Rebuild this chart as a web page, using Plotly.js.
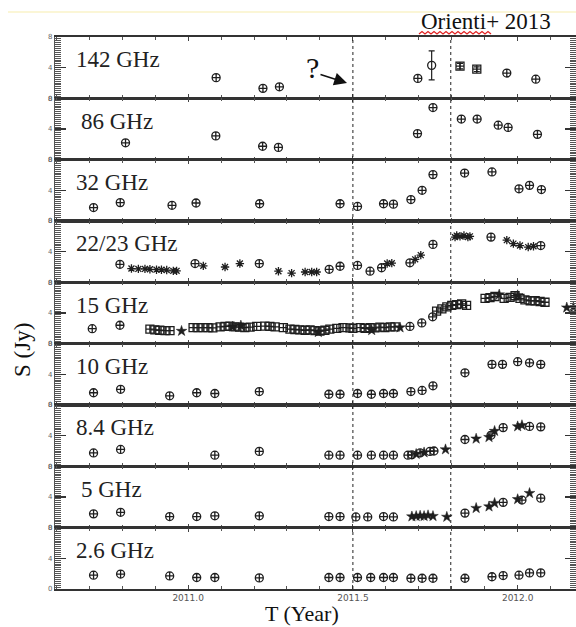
<!DOCTYPE html>
<html><head><meta charset="utf-8">
<script src="https://cdn.plot.ly/plotly-3.0.1.min.js"></script>
<style>html,body{margin:0;padding:0;background:#fff}#chart{width:576px;height:627px}</style>
</head><body><div id="chart"></div>
<script>
// ---- data (year, flux density in Jy) ----
const panelLabels = ["142 GHz", "86 GHz", "32 GHz", "22/23 GHz", "15 GHz", "10 GHz", "8.4 GHz", "5 GHz", "2.6 GHz"];
const xTickVals = [2011.0, 2011.5, 2012.0];
const xTickText = ["2011.0", "2011.5", "2012.0"];
const yTickVals = [0, 4, 8];
const yTickText = ["0", "4", "8"];
const flareLines = [2011.5, 2011.797];

const f142_t = [2011.085, 2011.227, 2011.277, 2011.697, 2011.967, 2012.055];
const f142_s = [2.7, 1.3, 1.5, 2.6, 3.3, 2.5];
const f142o_t = [2011.739];
const f142o_s = [4.3];
const f142o_e = [1.9];
const f142q_t = [2011.825, 2011.876];
const f142q_s = [4.2, 3.8];
const f142q_e = [0.35, 0.3];

const f86_t = [2010.810, 2011.084, 2011.226, 2011.274, 2011.696, 2011.743, 2011.829, 2011.877, 2011.941, 2011.971, 2012.060];
const f86_s = [2.2, 3.1, 1.75, 1.6, 3.4, 6.8, 5.3, 5.3, 4.5, 4.2, 3.3];

const f32_t = [2010.713, 2010.794, 2010.951, 2011.024, 2011.217, 2011.461, 2011.514, 2011.593, 2011.623, 2011.676, 2011.710, 2011.743, 2011.839, 2011.922, 2012.004, 2012.036, 2012.072];
const f32_s = [1.75, 2.4, 2.05, 2.35, 2.25, 2.25, 1.9, 2.25, 2.2, 2.8, 4.0, 6.05, 6.25, 6.4, 4.2, 4.65, 4.1];

const f22c_t = [2010.793, 2011.021, 2011.216, 2011.428, 2011.461, 2011.514, 2011.552, 2011.587, 2011.673, 2011.743, 2011.919, 2012.070];
const f22c_s = [2.35, 2.45, 2.45, 1.7, 2.1, 2.2, 1.45, 1.9, 2.55, 4.95, 5.9, 4.8];
const f22a_t = [2010.828, 2010.849, 2010.869, 2010.884, 2010.904, 2010.919, 2010.935, 2010.955, 2010.965, 2011.046, 2011.112, 2011.157, 2011.274, 2011.314, 2011.355, 2011.375, 2011.390, 2011.604, 2011.618, 2011.689, 2011.706, 2011.810, 2011.815, 2011.825, 2011.837, 2011.849, 2011.855, 2011.967, 2011.987, 2012.007, 2012.032, 2012.048];
const f22a_s = [1.8, 1.75, 1.75, 1.7, 1.65, 1.65, 1.6, 1.5, 1.5, 2.15, 2.0, 2.45, 1.45, 1.2, 1.35, 1.35, 1.35, 2.45, 2.5, 3.0, 3.55, 5.9, 6.1, 6.0, 6.1, 5.9, 6.0, 5.5, 5.05, 4.8, 4.6, 4.7];

const f15c_t = [2010.709, 2010.793, 2011.673, 2011.709, 2011.742];
const f15c_s = [1.95, 2.4, 2.25, 2.7, 3.5];
const f15q_t = [2010.884, 2010.899, 2010.914, 2010.930, 2010.945, 2011.015, 2011.030, 2011.045, 2011.060, 2011.075, 2011.097, 2011.112, 2011.127, 2011.142, 2011.157, 2011.172, 2011.188, 2011.208, 2011.233, 2011.248, 2011.264, 2011.289, 2011.309, 2011.324, 2011.339, 2011.355, 2011.370, 2011.385, 2011.400, 2011.415, 2011.430, 2011.451, 2011.470, 2011.491, 2011.500, 2011.522, 2011.537, 2011.552, 2011.567, 2011.582, 2011.597, 2011.613, 2011.628, 2011.754, 2011.770, 2011.785, 2011.800, 2011.815, 2011.830, 2011.845, 2011.901, 2011.916, 2011.931, 2011.959, 2011.977, 2011.992, 2012.007, 2012.022, 2012.038, 2012.053, 2012.068, 2012.083];
const f15q_s = [1.9, 1.8, 1.75, 1.7, 1.7, 2.1, 2.1, 2.1, 2.1, 2.05, 2.2, 2.25, 2.3, 2.2, 2.15, 2.1, 2.15, 2.25, 2.3, 2.25, 2.2, 2.1, 1.9, 1.85, 1.8, 1.75, 1.8, 1.7, 1.65, 1.75, 1.9, 2.0, 2.1, 2.05, 2.0, 2.1, 2.0, 2.1, 2.05, 2.15, 2.1, 2.2, 2.2, 4.25, 4.55, 4.8, 5.0, 5.1, 5.2, 5.0, 5.9, 6.0, 6.15, 5.9, 6.05, 6.25, 5.9, 5.7, 5.6, 5.6, 5.5, 5.4];
const f15s_t = [2010.980, 2011.135, 2011.160, 2011.395, 2011.557, 2011.643, 2011.944, 2012.000, 2012.149, 2012.169];
const f15s_s = [1.65, 2.2, 2.35, 1.5, 1.75, 2.1, 6.4, 6.3, 4.7, 4.7];

const f10_t = [2010.713, 2010.795, 2010.944, 2011.026, 2011.081, 2011.216, 2011.427, 2011.461, 2011.514, 2011.556, 2011.593, 2011.623, 2011.676, 2011.710, 2011.743, 2011.840, 2011.922, 2011.954, 2012.000, 2012.036, 2012.070];
const f10_s = [1.6, 2.05, 1.2, 1.6, 1.5, 1.75, 1.4, 1.4, 1.5, 1.4, 1.5, 1.5, 1.75, 1.9, 2.5, 4.2, 5.3, 5.3, 5.65, 5.5, 5.3];

const f84c_t = [2010.713, 2010.795, 2011.081, 2011.216, 2011.427, 2011.461, 2011.514, 2011.556, 2011.593, 2011.623, 2011.667, 2011.679, 2011.704, 2011.734, 2011.746, 2011.840, 2011.919, 2011.956, 2012.036, 2012.070];
const f84c_s = [1.75, 2.2, 1.45, 1.95, 1.45, 1.45, 1.45, 1.45, 1.45, 1.45, 1.45, 1.5, 1.75, 1.95, 2.0, 3.5, 4.05, 5.05, 5.2, 5.15];
const f84s_t = [2011.692, 2011.716, 2011.781, 2011.874, 2011.913, 2011.930, 2012.000, 2012.013];
const f84s_s = [1.6, 1.8, 2.2, 3.6, 3.8, 4.6, 5.2, 5.35];

const f5c_t = [2010.713, 2010.795, 2010.944, 2011.026, 2011.081, 2011.216, 2011.427, 2011.461, 2011.509, 2011.545, 2011.593, 2011.623, 2011.840, 2011.956, 2012.013, 2012.070];
const f5c_s = [1.8, 2.0, 1.45, 1.45, 1.55, 1.55, 1.45, 1.45, 1.4, 1.4, 1.45, 1.4, 1.9, 3.3, 3.6, 3.85];
const f5s_t = [2011.679, 2011.692, 2011.704, 2011.716, 2011.728, 2011.743, 2011.785, 2011.874, 2011.913, 2011.930, 2012.000, 2012.036];
const f5s_s = [1.45, 1.5, 1.55, 1.5, 1.6, 1.5, 1.4, 2.55, 2.75, 3.2, 3.7, 4.5];

const f26_t = [2010.713, 2010.795, 2010.944, 2011.026, 2011.081, 2011.216, 2011.427, 2011.461, 2011.514, 2011.554, 2011.593, 2011.623, 2011.676, 2011.710, 2011.743, 2011.840, 2011.922, 2011.956, 2012.004, 2012.036, 2012.070];
const f26_s = [1.8, 1.95, 1.7, 1.5, 1.5, 1.45, 1.5, 1.5, 1.5, 1.5, 1.5, 1.5, 1.4, 1.4, 1.4, 1.4, 1.6, 1.75, 1.8, 2.1, 2.1];

// ---- styling / building ----
const INK = "#1e1e1e";
const SYM = {
  c: {symbol: "circle-cross-open", size: 8, color: INK, line: {color: INK, width: 1.3}},
  o: {symbol: "circle-open", size: 8, color: INK, line: {color: INK, width: 1.3}},
  q: {symbol: "square-cross-open", size: 8, color: INK, line: {color: INK, width: 1.3}},
  s: {symbol: "star", size: 8, color: INK, line: {color: INK, width: 0.5}},
  a: {symbol: "asterisk-open", size: 7, color: INK, line: {color: INK, width: 1.3}}
};
const panels = [
  [[f142_t, f142_s, "c"], [f142o_t, f142o_s, "o", f142o_e], [f142q_t, f142q_s, "q", f142q_e]],
  [[f86_t, f86_s, "c"]],
  [[f32_t, f32_s, "c"]],
  [[f22c_t, f22c_s, "c"], [f22a_t, f22a_s, "a"]],
  [[f15q_t, f15q_s, "q"], [f15c_t, f15c_s, "c"], [f15s_t, f15s_s, "s"]],
  [[f10_t, f10_s, "c"]],
  [[f84c_t, f84c_s, "c"], [f84s_t, f84s_s, "s"]],
  [[f5c_t, f5c_s, "c"], [f5s_t, f5s_s, "s"]],
  [[f26_t, f26_s, "c"]]
];

const N = panels.length;
const XR = [2010.596, 2012.177];
const traces = [];
const layout = {
  width: 576, height: 627,
  margin: {l: 55, r: 0, t: 37, b: 38},
  paper_bgcolor: "#fff", plot_bgcolor: "#fff",
  showlegend: false,
  font: {family: "DejaVu Sans", color: "#666", size: 8},
  annotations: [], shapes: []
};
for (let i = 0; i < N; i++) {
  const k = i + 1;
  const xa = k === 1 ? "x" : "x" + k;
  const ya = k === 1 ? "y" : "y" + k;
  panels[i].forEach(([t, s, m, e]) => {
    const tr = {type: "scatter", mode: "markers", x: t, y: s, xaxis: xa, yaxis: ya,
      marker: SYM[m], cliponaxis: false, hoverinfo: "x+y"};
    if (e) tr.error_y = {type: "data", array: e, color: INK, thickness: 1.2, width: 3};
    traces.push(tr);
  });
  const top = 1 - i / N, bot = 1 - (i + 1) / N;
  layout["xaxis" + (k === 1 ? "" : k)] = {
    domain: [0, 1], anchor: ya, range: XR, matches: k === 1 ? undefined : "x",
    showline: true, linecolor: "#333", linewidth: 1.6, mirror: "ticks",
    ticks: "inside", ticklen: 4, tickcolor: "#444", tickwidth: 1,
    tickmode: "array", tickvals: xTickVals, ticktext: xTickText,
    showticklabels: k === N, tickfont: {size: 9, color: "#555", family: "DejaVu Sans"},
    minor: {ticks: "inside", dtick: 0.1, tick0: 2011.0, ticklen: 3, tickcolor: "#555", tickwidth: 1},
    showgrid: false, zeroline: false, fixedrange: true
  };
  layout["yaxis" + (k === 1 ? "" : k)] = {
    domain: [bot, top], anchor: xa, range: [0, 8],
    showline: true, linecolor: "#555", linewidth: 1.2, mirror: "ticks",
    ticks: "inside", ticklen: 11, tickcolor: "#333", tickwidth: 1.2,
    tickmode: "array", tickvals: yTickVals, ticktext: yTickText,
    tickfont: {size: 7, color: "#666", family: "DejaVu Sans"},
    minor: {ticks: "inside", dtick: 0.25, tick0: 0, ticklen: 6, tickcolor: "#555", tickwidth: 1},
    showgrid: false, zeroline: false, fixedrange: true
  };
  layout.annotations.push({
    xref: xa + " domain", yref: ya + " domain",
    x: (i === 1 || i === 7) ? 0.046 : 0.036, y: 0.63, xanchor: "left", yanchor: "middle",
    text: panelLabels[i], showarrow: false,
    font: {family: "Liberation Serif", size: 23, color: "#222"}
  });
}
flareLines.forEach(v => layout.shapes.push({
  type: "line", xref: "x", yref: "paper", x0: v, x1: v, y0: 0, y1: 1,
  line: {color: "#222", width: 1, dash: "dot"}
}));
// page decorations (paper coordinates)
const px = v => (v - 55) / 521, py = v => (589 - v) / 552;
layout.shapes.push({type: "line", xref: "paper", yref: "paper", x0: px(8), x1: px(576), y0: py(12), y1: py(12),
  line: {color: "#faf3c8", width: 1.5}});
let wave = "M " + px(419) + "," + py(34);
for (let xw = 419, j = 0; xw < 491; xw += 3, j++) {
  wave += " L " + px(xw + 3) + "," + py(j % 2 ? 34 : 31.5);
}
layout.shapes.push({type: "path", xref: "paper", yref: "paper", path: wave, line: {color: "#e02020", width: 1.2}});
layout.annotations.push(
  {xref: "paper", yref: "paper", x: px(419), y: py(22), xanchor: "left", yanchor: "middle",
   text: "Orienti+ 2013", showarrow: false, font: {family: "Liberation Serif", size: 23, color: "#111"}},
  {xref: "paper", yref: "paper", x: px(312), y: py(67), xanchor: "center", yanchor: "middle",
   text: "?", showarrow: false, font: {family: "Liberation Serif", size: 30, color: "#111"}},
  {xref: "paper", yref: "paper", x: px(347), y: py(83), axref: "pixel", ayref: "pixel", ax: -28, ay: -9,
   text: "", showarrow: true, arrowhead: 2, arrowsize: 1.6, arrowwidth: 1.6, arrowcolor: "#111"},
  {xref: "paper", yref: "paper", x: px(302), y: py(613), xanchor: "center", yanchor: "middle",
   text: "T (Year)", showarrow: false, font: {family: "Liberation Serif", size: 22, color: "#111"}},
  {xref: "paper", yref: "paper", x: px(22), y: py(350), xanchor: "center", yanchor: "middle", textangle: -90,
   text: "S (Jy)", showarrow: false, font: {family: "Liberation Serif", size: 23, color: "#111"}}
);
Plotly.newPlot("chart", traces, layout, {staticPlot: true, displayModeBar: false});
</script>
</body></html>
